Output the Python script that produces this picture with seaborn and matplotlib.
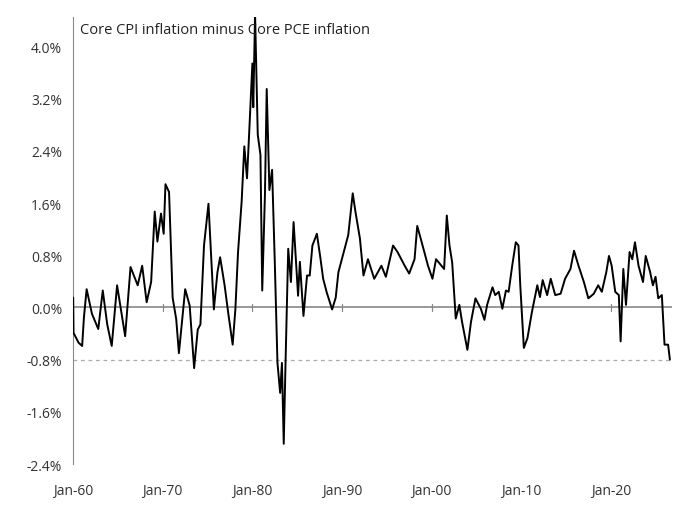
import pandas as pd
import numpy as np
import matplotlib
matplotlib.use('Agg')
import matplotlib.pyplot as plt
import seaborn as sns

# core CPI minus core PCE inflation (year, pct points)
pts = [
    (1960.0, 0.15), (1960.04, -0.39), (1960.6, -0.54), (1961.0, -0.59), (1961.2, -0.15),
    (1961.5, 0.28), (1962.1, -0.10), (1962.8, -0.33), (1963.3, 0.26), (1963.8, -0.26),
    (1964.3, -0.59), (1964.9, 0.34), (1965.8, -0.44), (1966.4, 0.62), (1967.2, 0.34),
    (1967.7, 0.64), (1968.2, 0.08), (1968.7, 0.39), (1969.1, 1.47), (1969.4, 1.01),
    (1969.8, 1.44), (1970.1, 1.13), (1970.3, 1.89), (1970.7, 1.77), (1971.1, 0.15),
    (1971.5, -0.18), (1971.8, -0.70), (1972.5, 0.28), (1973.0, 0.03), (1973.5, -0.93),
    (1973.9, -0.34), (1974.2, -0.26), (1974.6, 0.95), (1975.1, 1.59), (1975.7, -0.03),
    (1976.1, 0.54), (1976.4, 0.77), (1976.9, 0.34), (1977.3, -0.08), (1977.8, -0.57),
    (1978.1, -0.03), (1978.4, 0.85), (1978.8, 1.62), (1979.1, 2.47), (1979.4, 1.98),
    (1979.6, 2.55), (1980.0, 3.74), (1980.1, 3.07), (1980.3, 4.5), (1980.6, 2.65),
    (1980.9, 2.34), (1981.1, 0.26), (1981.4, 1.72), (1981.6, 3.35), (1981.9, 1.80),
    (1982.2, 2.11), (1982.5, 0.70), (1982.8, -0.85), (1983.1, -1.31), (1983.3, -0.85),
    (1983.5, -2.09), (1983.7, -0.85), (1984.0, 0.90), (1984.3, 0.39), (1984.6, 1.31),
    (1985.1, 0.18), (1985.3, 0.70), (1985.7, -0.13), (1986.1, 0.49), (1986.4, 0.49),
    (1986.7, 0.95), (1987.2, 1.13), (1987.6, 0.75), (1987.9, 0.44), (1988.3, 0.23),
    (1988.9, -0.03), (1989.3, 0.15), (1989.6, 0.54), (1990.2, 0.85), (1990.7, 1.11),
    (1991.2, 1.75), (1991.5, 1.47), (1992.0, 1.06), (1992.4, 0.49), (1992.9, 0.74),
    (1993.6, 0.44), (1994.4, 0.64), (1994.9, 0.47), (1995.7, 0.95), (1996.2, 0.85),
    (1997.0, 0.64), (1997.5, 0.52), (1998.1, 0.74), (1998.4, 1.25), (1998.8, 1.05),
    (1999.6, 0.64), (2000.1, 0.44), (2000.5, 0.74), (2001.4, 0.59), (2001.7, 1.41),
    (2002.0, 0.95), (2002.3, 0.69), (2002.7, -0.17), (2003.1, 0.04), (2003.4, -0.22),
    (2004.0, -0.65), (2004.4, -0.22), (2004.9, 0.14), (2005.5, -0.02), (2005.9, -0.19),
    (2006.2, 0.04), (2006.8, 0.31), (2007.1, 0.19), (2007.5, 0.24), (2007.9, -0.02),
    (2008.3, 0.26), (2008.6, 0.24), (2009.0, 0.64), (2009.4, 1.00), (2009.7, 0.95),
    (2009.9, 0.34), (2010.3, -0.62), (2010.7, -0.47), (2011.2, -0.07), (2011.8, 0.34),
    (2012.1, 0.16), (2012.4, 0.42), (2012.9, 0.19), (2013.3, 0.44), (2013.8, 0.19),
    (2014.4, 0.21), (2014.9, 0.44), (2015.5, 0.59), (2015.9, 0.87), (2016.4, 0.64),
    (2017.0, 0.39), (2017.5, 0.14), (2018.1, 0.21), (2018.6, 0.34), (2019.0, 0.24),
    (2019.5, 0.54), (2019.8, 0.79), (2020.1, 0.64), (2020.5, 0.24), (2020.9, 0.19),
    (2021.1, -0.52), (2021.4, 0.59), (2021.7, 0.04), (2022.1, 0.85), (2022.4, 0.74),
    (2022.7, 1.00), (2023.1, 0.64), (2023.6, 0.39), (2023.9, 0.79), (2024.4, 0.54),
    (2024.7, 0.34), (2025.0, 0.47), (2025.3, 0.14), (2025.7, 0.19), (2026.0, -0.57),
    (2026.4, -0.57), (2026.6, -0.80),
]
data = pd.DataFrame(pts, columns=['year', 'diff'])

sns.set_style('white')
plt.rcParams['font.family'] = ['Open Sans', 'DejaVu Sans']

fig = plt.figure(figsize=(6.84, 5.06), dpi=100)
ax = fig.add_axes([0.107, 0.081, 0.875, 0.883])

ax.axhline(0, color='#888888', linewidth=1.2, zorder=1)
ax.axhline(-0.8, color='#aaaaaa', linewidth=0.9, linestyle=(0, (3, 3)), zorder=1)
# decade tick marks on the zero line
for yr in range(1970, 2030, 10):
    ax.plot([yr, yr], [-0.05, 0.05], color='#888888', linewidth=0.9, zorder=1)

sns.lineplot(data=data, x='year', y='diff', color='black', linewidth=1.4, ax=ax, zorder=3)

ax.set_xlim(1960, 2026.8)
ax.set_ylim(-2.4, 4.45)
ax.set_yticks(np.arange(-2.4, 4.01, 0.8))
ax.set_yticklabels([f'{v:.1f}%' for v in np.arange(-2.4, 4.01, 0.8)])
ax.set_xticks(range(1960, 2030, 10))
ax.set_xticklabels(['Jan-60', 'Jan-70', 'Jan-80', 'Jan-90', 'Jan-00', 'Jan-10', 'Jan-20'])
ax.set_xlabel('')
ax.set_ylabel('')

for s in ['top', 'right', 'bottom']:
    ax.spines[s].set_visible(False)
ax.spines['left'].set_color('#888888')
ax.tick_params(axis='y', direction='in', length=4, color='#888888', labelsize=10,
               labelcolor='#333333', pad=8)
ax.tick_params(axis='x', length=0, labelsize=10, labelcolor='#333333', pad=14)

ax.text(0.012, 0.99, 'Core CPI inflation minus Core PCE inflation', transform=ax.transAxes,
        fontsize=10.5, color='#222222', va='top', ha='left')

fig.savefig('out.png', dpi=100)
